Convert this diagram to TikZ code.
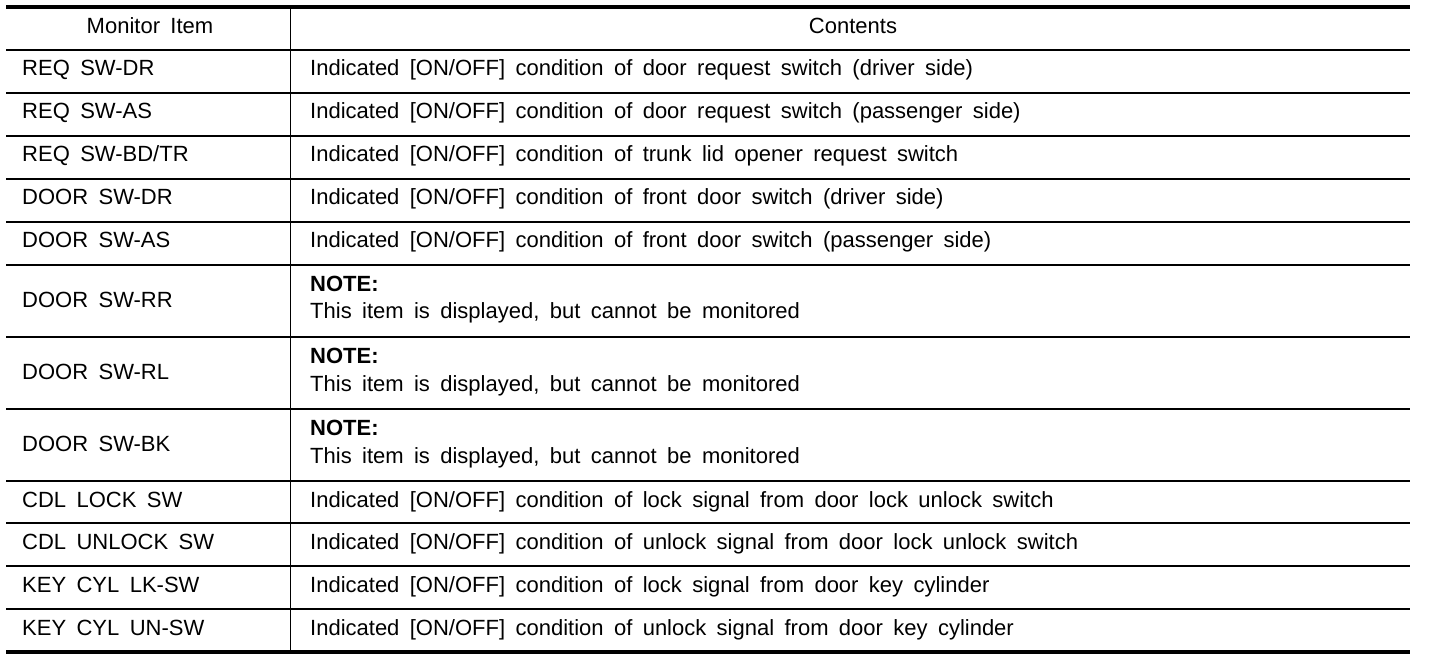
\documentclass[tikz,border=0pt]{standalone}
\usepackage{fontspec}
\setmainfont[WordSpace=1.7]{Liberation Sans}
\begin{document}
\begin{tikzpicture}[x=1pt,y=-1pt,
  txt/.style={anchor=base west,inner sep=0pt,font=\fontsize{22}{26}\selectfont},
  hdr/.style={anchor=base,inner sep=0pt,font=\fontsize{22}{26}\selectfont},
  notetxt/.style={txt,font=\fontsize{22}{26}\selectfont\bfseries},
  rulethin/.style={line width=2.2pt},
  rulethick/.style={line width=4.3pt},
  colrule/.style={line width=1pt}]
\useasboundingbox (0,0) rectangle (1456,660);
% rules
\coordinate (tl) at (6,7);
\coordinate (tr) at (1410,7);
\coordinate (bl) at (6,652);
\coordinate (br) at (1410,652);
\draw[rulethick] (tl) -- (tr);
\draw[rulethick] (bl) -- (br);
\foreach \y in {50,93,136,179,222,265,337,409,481,523,566,609}{
  \draw[rulethin] (6,\y) -- (1410,\y);
}
\coordinate (ct) at (290,7);
\coordinate (cb) at (290,652);
\draw[colrule] (ct) -- (cb);
% header
\node[hdr] (h1) at (150,33.5) {Monitor Item};
\node[hdr] (h2) at (853,33.5) {Contents};
% single rows
\node[txt] (a1) at (22,76) {REQ SW-DR};
\node[txt] (b1) at (310,76) {Indicated [ON/OFF] condition of door request switch (driver side)};
\node[txt] (a2) at (22,119) {REQ SW-AS};
\node[txt] (b2) at (310,119) {Indicated [ON/OFF] condition of door request switch (passenger side)};
\node[txt] (a3) at (22,162) {REQ SW-BD/TR};
\node[txt] (b3) at (310,162) {Indicated [ON/OFF] condition of trunk lid opener request switch};
\node[txt] (a4) at (22,205) {DOOR SW-DR};
\node[txt] (b4) at (310,205) {Indicated [ON/OFF] condition of front door switch (driver side)};
\node[txt] (a5) at (22,248) {DOOR SW-AS};
\node[txt] (b5) at (310,248) {Indicated [ON/OFF] condition of front door switch (passenger side)};
% note rows
\node[txt] (a6) at (22,307.5) {DOOR SW-RR};
\node[notetxt] (n6) at (310,291) {NOTE:};
\node[txt] (b6) at (310,319) {This item is displayed, but cannot be monitored};
\node[txt] (a7) at (22,379.5) {DOOR SW-RL};
\node[notetxt] (n7) at (310,363) {NOTE:};
\node[txt] (b7) at (310,391) {This item is displayed, but cannot be monitored};
\node[txt] (a8) at (22,451.5) {DOOR SW-BK};
\node[notetxt] (n8) at (310,435) {NOTE:};
\node[txt] (b8) at (310,463) {This item is displayed, but cannot be monitored};
% bottom single rows
\node[txt] (a9) at (22,507) {CDL LOCK SW};
\node[txt] (b9) at (310,507) {Indicated [ON/OFF] condition of lock signal from door lock unlock switch};
\node[txt] (a10) at (22,549) {CDL UNLOCK SW};
\node[txt] (b10) at (310,549) {Indicated [ON/OFF] condition of unlock signal from door lock unlock switch};
\node[txt] (a11) at (22,592) {KEY CYL LK-SW};
\node[txt] (b11) at (310,592) {Indicated [ON/OFF] condition of lock signal from door key cylinder};
\node[txt] (a12) at (22,635) {KEY CYL UN-SW};
\node[txt] (b12) at (310,635) {Indicated [ON/OFF] condition of unlock signal from door key cylinder};
\end{tikzpicture}
\end{document}
